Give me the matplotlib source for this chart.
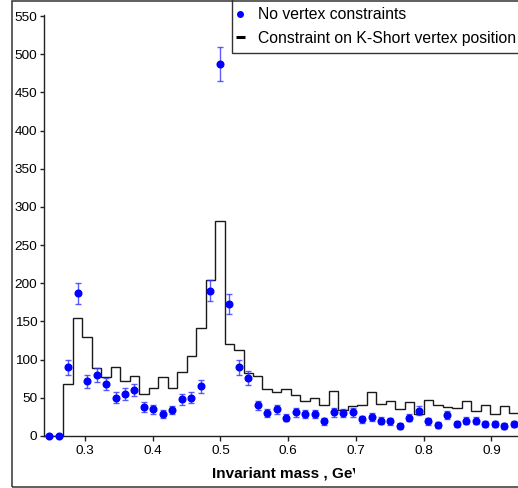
#!/usr/bin/env python3

import matplotlib
matplotlib.use('Agg')
import matplotlib.pyplot as plt
from matplotlib.lines import Line2D
from matplotlib.patches import Rectangle
from matplotlib.transforms import Bbox
import numpy as np

# binning of the invariant mass spectrum (GeV)
mass_min = 0.24
mass_max = 0.94
n_bins = 50

# counts with no vertex constraints (blue points)
counts_free = [0, 0, 90, 187, 72, 80, 68, 50, 55, 60,
               38, 35, 29, 34, 48, 50, 65, 190, 487, 173,
               90, 76, 40, 30, 35, 24, 31, 29, 29, 19,
               31, 30, 31, 22, 25, 20, 19, 13, 24, 33,
               19, 14, 27, 16, 20, 20, 16, 16, 13, 16]
errors_free = [0, 0, 9.5, 13.7, 8.5, 9, 8.2, 7.1, 7.4, 7.7,
               6.2, 5.9, 5.4, 5.8, 6.9, 7.1, 8.1, 13.8, 22, 13.2,
               9.5, 8.7, 6.3, 5.5, 5.9, 4.9, 5.6, 5.4, 5.4, 4.4,
               5.6, 5.5, 5.6, 4.7, 5, 4.5, 4.4, 3.6, 4.9, 5.7,
               4.4, 3.7, 5.2, 4, 4.5, 4.5, 4, 4, 3.6, 4]

# counts with constraint on K-Short vertex position (black histogram)
counts_vtx = [0, 0, 68, 154, 130, 89, 77, 91, 72, 78,
              55, 63, 77, 63, 84, 105, 142, 204, 281, 120,
              113, 82, 78, 61, 57, 61, 54, 46, 50, 40,
              59, 34, 39, 41, 57, 42, 46, 35, 44, 29,
              47, 41, 38, 37, 46, 33, 40, 29, 39, 30]

x_ticks = [0.3, 0.4, 0.5, 0.6, 0.7, 0.8, 0.9]
y_ticks = list(range(0, 551, 50))
legend_labels = ['No vertex constraints', 'Constraint on K-Short vertex position']

plt.rcParams['font.family'] = ['Liberation Sans', 'DejaVu Sans']

W, H = 518, 488
fig = plt.figure(figsize=(W / 100, H / 100), dpi=100)
ax = fig.add_axes([44 / W, 52 / H, 474.5 / W, 420.7 / H])

def fx(px):
    # picture pixel (from left) -> figure fraction
    return px / W

def fy(py):
    # picture pixel (from top) -> figure fraction
    return 1 - py / H

edges = np.linspace(mass_min, mass_max, n_bins + 1)
centers = 0.5 * (edges[:-1] + edges[1:])

# histogram
ax.stairs(counts_vtx, edges, baseline=0, color='#1a1a1a', lw=1.0, zorder=2)

# points with error bars
ax.errorbar(centers, counts_free, yerr=errors_free, fmt='o', color='#0000ff',
            ms=4.8, ecolor=(0.2, 0.2, 1.0, 0.8), elinewidth=1.0,
            capsize=2.2, capthick=1.0, zorder=3, clip_on=False)

ax.set_xlim(0.2394, 0.94)
ax.set_ylim(0, 551)
ax.set_xticks(x_ticks)
ax.set_xticklabels(['{:.1f}'.format(t) for t in x_ticks])
ax.set_yticks(y_ticks)

ax.spines['top'].set_visible(False)
ax.spines['right'].set_visible(False)
for s in ('left', 'bottom'):
    ax.spines[s].set_color('#222222')
    ax.spines[s].set_linewidth(1.0)
ax.tick_params(axis='x', length=3.6, width=1.0, pad=3.0, labelsize=9.7, color='#222222')
ax.tick_params(axis='y', length=2.9, width=1.0, pad=2.0, labelsize=9.7, color='#222222')

# x label, clipped on the right like in the original
xl = fig.text(fx(211.5), fy(474), 'Invariant mass , GeV', fontsize=11,
              fontweight='bold', ha='left', va='center')
xl.set_clip_box(Bbox.from_extents(0, 0, 355, H))
xl.set_clip_on(True)

# legend box (drawn by hand, it runs off the right edge)
fig.patches.append(Rectangle((fx(232), fy(53.3)), fx(300), fy(0) - fy(53.3) + 0.01,
                             transform=fig.transFigure, facecolor='white',
                             edgecolor='#333333', lw=1.0, zorder=5))
fig.add_artist(Line2D([fx(240)], [fy(14)], marker='o', color='#0000ff', ms=4.0,
                      ls='none', transform=fig.transFigure, zorder=6))
fig.add_artist(Line2D([fx(235.5), fx(244.5)], [fy(37.3), fy(37.3)], color='black',
                      lw=2.2, solid_capstyle='butt', transform=fig.transFigure, zorder=6))
fig.text(fx(258), fy(19.3), legend_labels[0], fontsize=11.35, va='baseline', zorder=6)
fig.text(fx(258), fy(42.7), legend_labels[1], fontsize=11.35, va='baseline', zorder=6)

# outer frame of the picture
fig.patches.append(Rectangle((fx(11.5), fy(486.7)), 0.99, fy(0.8) - fy(486.7),
                             transform=fig.transFigure, fill=False,
                             edgecolor='#333333', lw=1.1, clip_on=False, zorder=7))

fig.savefig('out.png', dpi=100)
